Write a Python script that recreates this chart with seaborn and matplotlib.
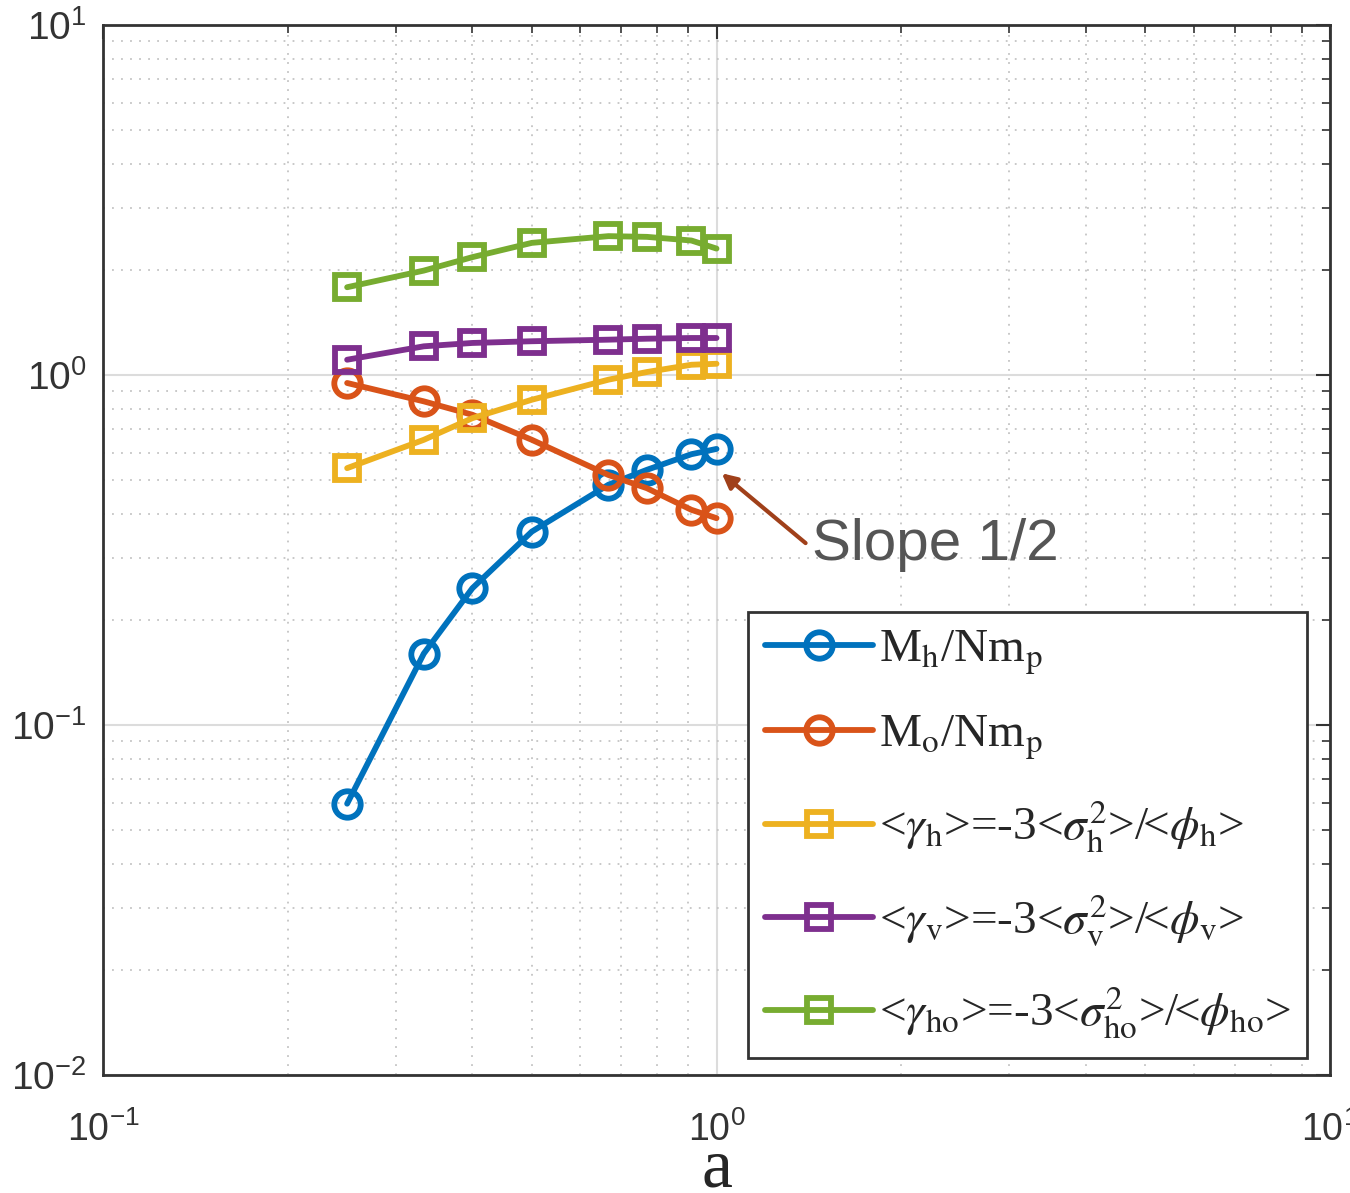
import numpy as np
import pandas as pd
import matplotlib
matplotlib.use("Agg")
from matplotlib import pyplot as plt
import seaborn as sns

# a values (x axis)
a = [0.25, 1 / 3, 0.4, 0.5, 2 / 3, 0.77, 0.91, 1.0]

# series values
m_h = [0.0596, 0.160, 0.246, 0.357, 0.486, 0.536, 0.594, 0.615]
m_o = [0.949, 0.841, 0.770, 0.653, 0.518, 0.475, 0.412, 0.390]
gamma_h = [0.542, 0.653, 0.753, 0.850, 0.970, 1.020, 1.070, 1.077]
gamma_v = [1.106, 1.208, 1.235, 1.249, 1.262, 1.270, 1.276, 1.276]
gamma_ho = [1.782, 1.988, 2.172, 2.386, 2.494, 2.482, 2.423, 2.298]

labels = [
    r'M$_\mathrm{h}$/Nm$_\mathrm{p}$',
    r'M$_\mathrm{o}$/Nm$_\mathrm{p}$',
    r'<$\gamma_\mathrm{h}$>=-3<$\sigma^2_\mathrm{h}$>/<$\phi_\mathrm{h}$>',
    r'<$\gamma_\mathrm{v}$>=-3<$\sigma^2_\mathrm{v}$>/<$\phi_\mathrm{v}$>',
    r'<$\gamma_\mathrm{ho}$>=-3<$\sigma^2_\mathrm{ho}$>/<$\phi_\mathrm{ho}$>',
]
series = [m_h, m_o, gamma_h, gamma_v, gamma_ho]
colors = ['#0072BD', '#D95319', '#EDB120', '#7E2F8E', '#77AC30']
markers = ['o', 'o', 's', 's', 's']

sns.set_theme(style='white')
plt.rcParams['font.family'] = ['Liberation Sans', 'DejaVu Sans']
plt.rcParams['mathtext.fontset'] = 'stix'
plt.rcParams['xtick.labelsize'] = 27
plt.rcParams['ytick.labelsize'] = 28

fig = plt.figure(figsize=(13.5, 11.93), dpi=100)
ax = fig.add_axes([0.0763, 0.0989, 0.9089, 0.8801])

for vals, lab, col, mk in zip(series, labels, colors, markers):
    df = pd.DataFrame({'a': a, 'v': vals})
    sns.lineplot(data=df, x='a', y='v', ax=ax, color=col, marker=mk,
                 markersize=19 if mk == 'o' else 17, markerfacecolor='none',
                 markeredgecolor=col, markeredgewidth=4.2, linewidth=4.2,
                 label=lab)

ax.set_xscale('log')
ax.set_yscale('log')
ax.set_xlim(0.1, 10)
ax.set_ylim(0.01, 10)

ax.grid(True, which='major', color='#dcdcdc', lw=1.5, ls='-')
ax.grid(True, which='minor', color='#c4c4c4', lw=1.3, ls=(0, (1, 4)))
ax.set_axisbelow(True)

for sp in ax.spines.values():
    sp.set_color('#333333')
    sp.set_linewidth(2)
ax.tick_params(which='both', direction='in', top=True, right=True,
               color='#333333')
ax.tick_params(which='major', length=10, width=1.5,
               labelcolor='#333333')
ax.tick_params(axis='x', which='major', pad=26)
ax.tick_params(axis='y', which='major', pad=12)
ax.tick_params(which='minor', length=6, width=1.2)

ax.set_xlabel('a', fontsize=50, family=['Liberation Serif', 'DejaVu Serif'],
              labelpad=-8)
ax.set_ylabel('')

ax.annotate('', xy=(1.02, 0.524), xytext=(1.397, 0.331),
            arrowprops=dict(arrowstyle='-|>', color='#A0401A', lw=3,
                            mutation_scale=22, shrinkA=0, shrinkB=0))
ax.text(1.43, 0.326, 'Slope 1/2', fontsize=42, color='#555555',
        ha='left', va='center')

leg = ax.legend(loc='upper left', bbox_to_anchor=(0.5257, 0.441),
                borderaxespad=0, handlelength=2.3,
                prop={'family': ['Liberation Serif', 'DejaVu Serif'], 'size': 34},
                labelspacing=0.78, handletextpad=0.12, borderpad=0.35,
                fancybox=False, framealpha=1, edgecolor='#333333')
leg.get_frame().set_linewidth(2)

fig.savefig('out.png', dpi=100)
